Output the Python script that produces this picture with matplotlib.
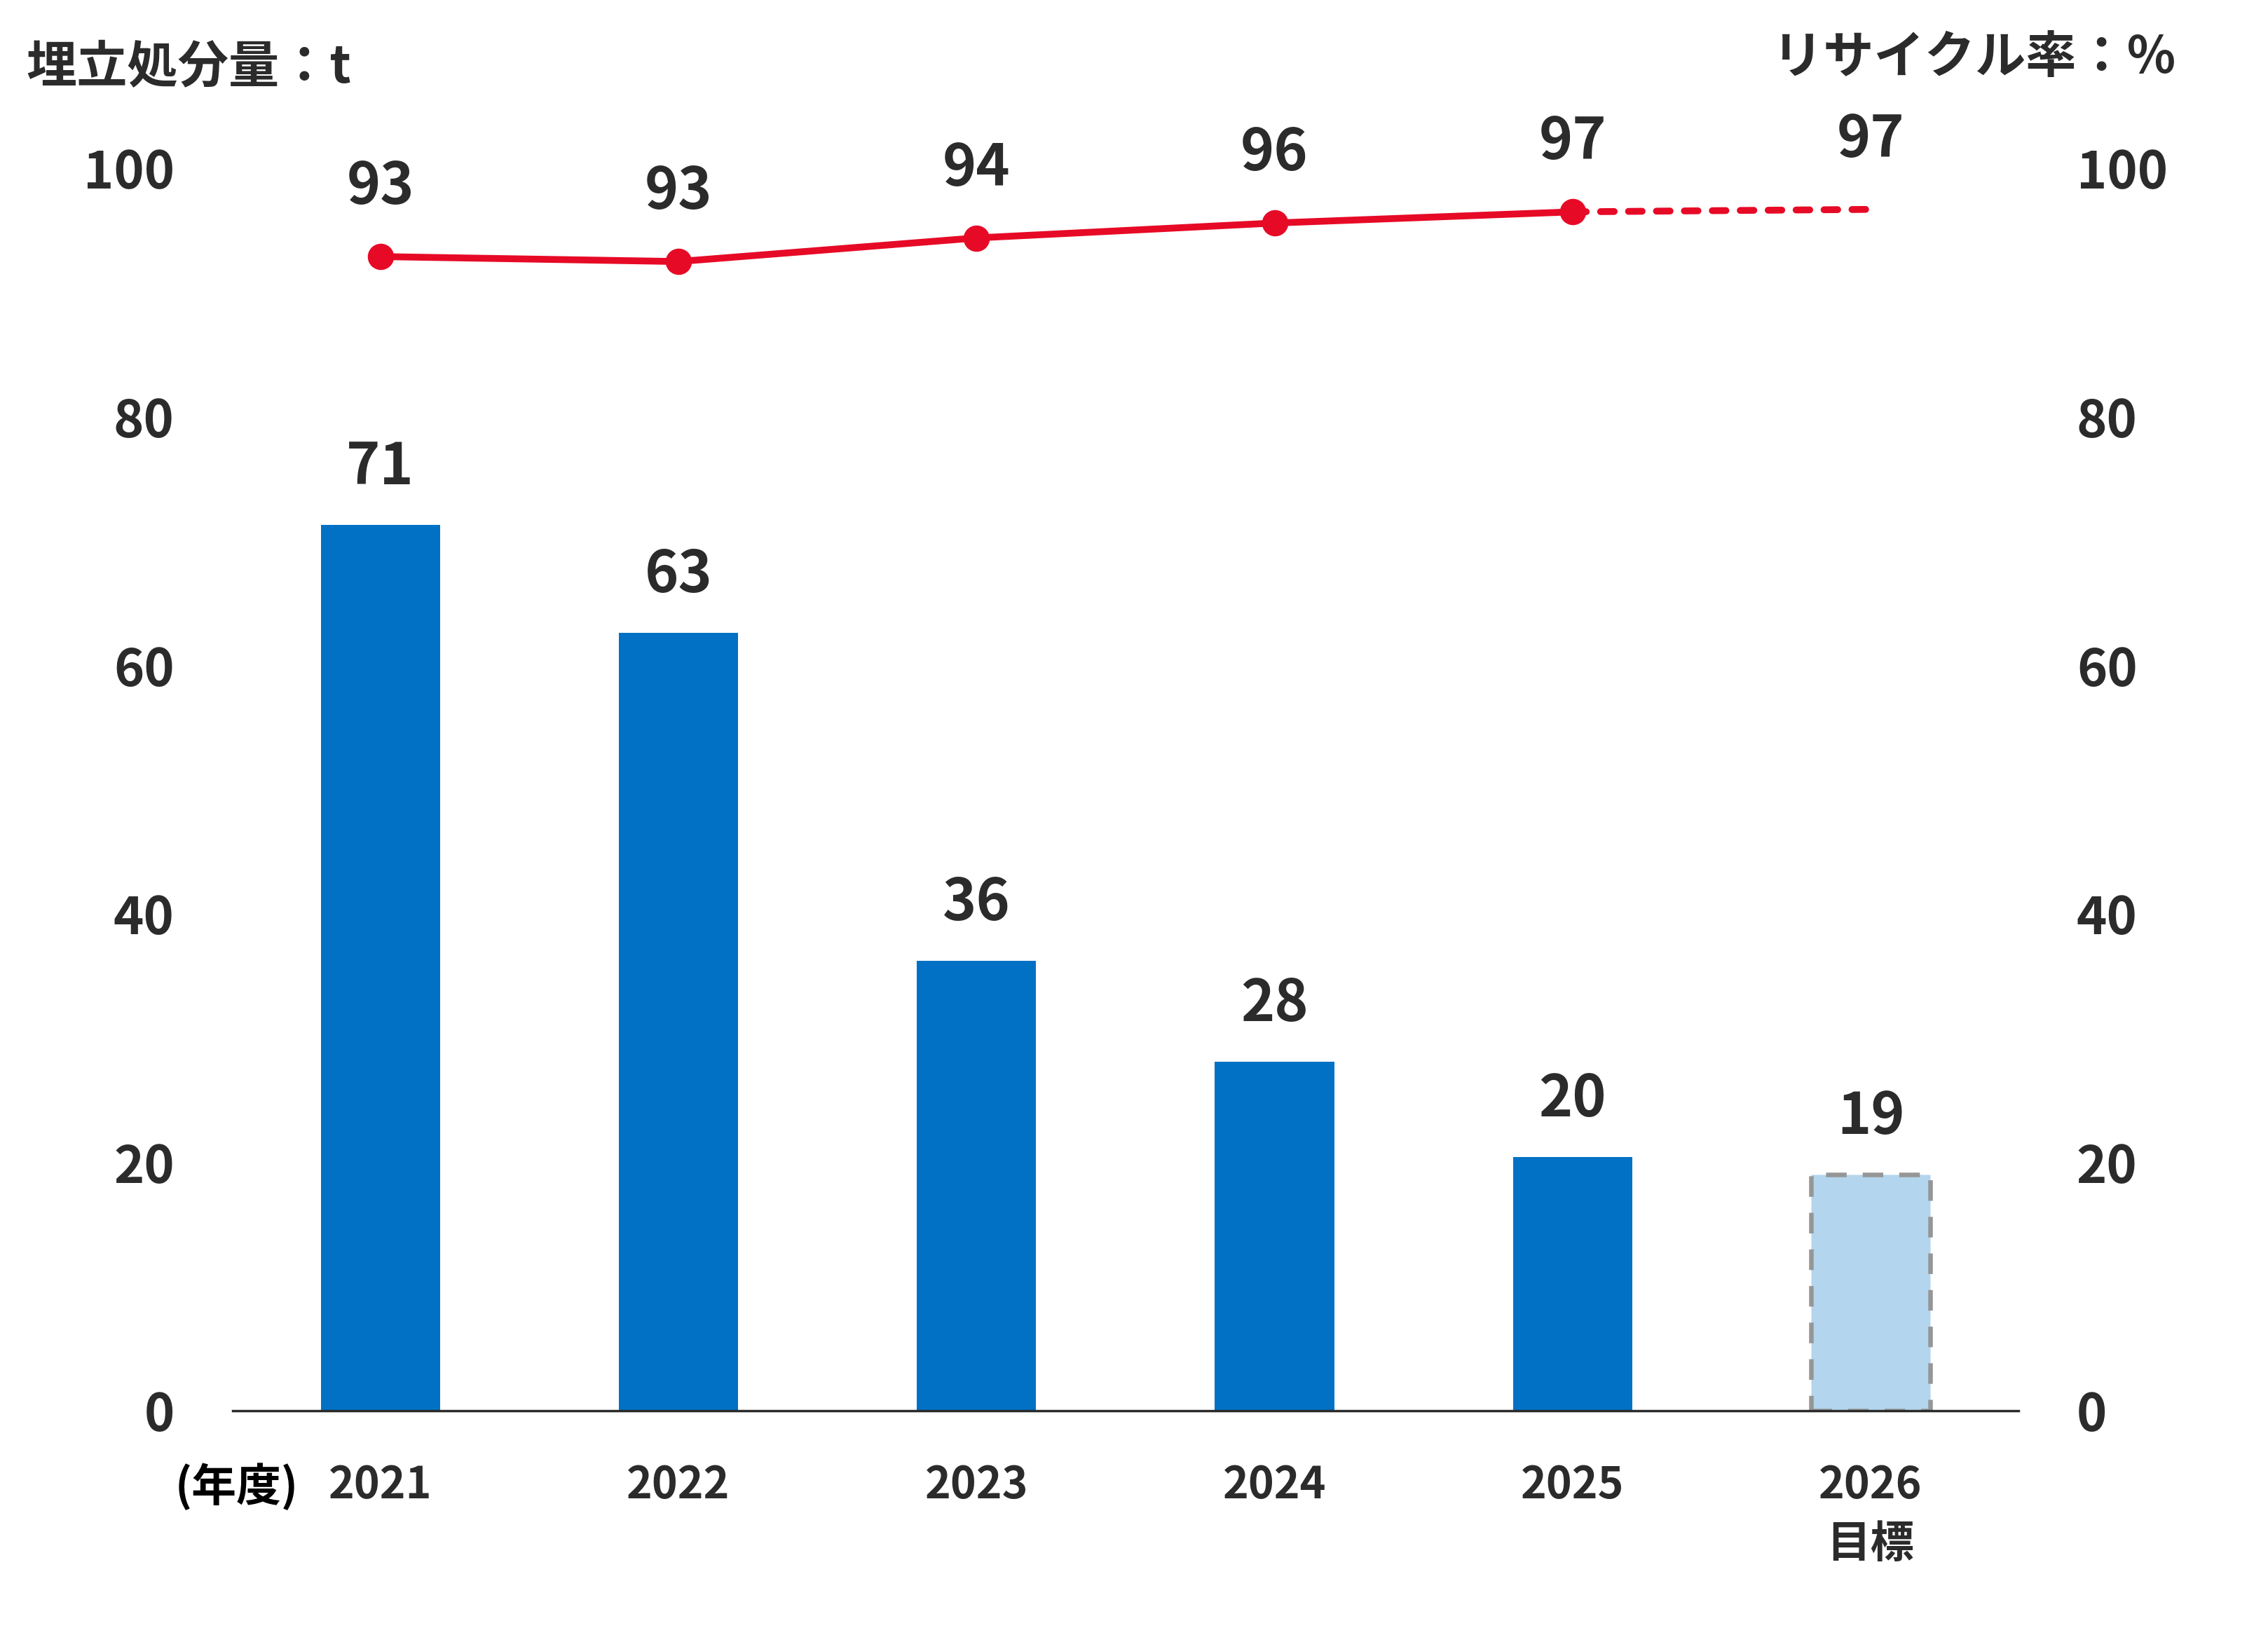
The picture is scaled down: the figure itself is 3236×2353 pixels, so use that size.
import matplotlib
matplotlib.use("Agg")
import matplotlib.pyplot as plt
from matplotlib.transforms import blended_transform_factory

plt.rcParams['font.family'] = ['Noto Sans CJK JP', 'DejaVu Sans']
plt.rcParams['font.weight'] = 'bold'

# ---- data ----
years = ["2021", "2022", "2023", "2024", "2025", "2026\n目標"]
landfill = [71.3, 62.6, 36.2, 28.1, 20.4, 19.0]          # t
landfill_labels = ["71", "63", "36", "28", "20", "19"]
recycle = [92.9, 92.5, 94.4, 95.6, 96.5, 96.7]           # %
recycle_labels = ["93", "93", "94", "96", "97", "97"]
yticks = [0, 20, 40, 60, 80, 100]

TXT = "#2b2b2b"
BLUE = "#0071c5"
LIGHT = "#b3d5ed"
RED = "#e60a26"
GRAY = "#969696"

fig = plt.figure(figsize=(32.37, 23.53), dpi=100)
ax = fig.add_axes([0.1026, 0.1445, 0.787, 0.7534])
ax2 = ax.twinx()

x = list(range(len(years)))
n_act = len(years) - 1

ax.bar(x[:n_act], landfill[:n_act], width=0.4, color=BLUE, zorder=2)
ax.bar(x[n_act], landfill[n_act], width=0.4, color=LIGHT, edgecolor=GRAY,
       linewidth=4.7, linestyle=(0, (4.5, 3.5)), zorder=2)

for xi, v, lab in zip(x, landfill, landfill_labels):
    ax.annotate(lab, (xi, v), xytext=(0, 59), textcoords='offset points',
                ha='center', va='center', fontsize=59, color=TXT, fontweight='bold')

ax2.plot(x[:n_act], recycle[:n_act], color=RED, linewidth=7, marker='o',
         markersize=26, zorder=3, clip_on=False)
ax2.plot(x[n_act - 1:], recycle[n_act - 1:], color=RED, linewidth=7,
         linestyle=(0, (2.0, 2.1)), dash_capstyle='round', zorder=3, clip_on=False)
for xi, v, lab in zip(x, recycle, recycle_labels):
    ax2.annotate(lab, (xi, v), xytext=(0, 71), textcoords='offset points',
                 ha='center', va='center', fontsize=59, color=TXT, fontweight='bold')

for a in (ax, ax2):
    a.set_ylim(0, 100)
    a.set_xlim(-0.495, 5.495)
    a.set_yticks(yticks)
    a.set_yticklabels([str(t) for t in yticks])
    for s in a.spines.values():
        s.set_visible(False)
    a.tick_params(axis='y', length=0, pad=60, labelsize=53, labelcolor=TXT)

ax.spines['bottom'].set_visible(True)
ax.spines['bottom'].set_color(TXT)
ax.spines['bottom'].set_linewidth(2.5)
ax.spines['bottom'].set_zorder(4)

ax.set_xticks(x)
ax.set_xticklabels(years, fontsize=45, color=TXT, fontweight='bold', linespacing=1.42)
ax.tick_params(axis='x', length=0, pad=54)

tr = blended_transform_factory(ax.transData, ax.transAxes)
ax.annotate("(年度)", xy=(-0.275, 0), xycoords=tr, xytext=(0, -54),
            textcoords='offset points', ha='right', va='top', fontsize=46,
            color='black', fontweight='bold')

fig.text(0.0115, 0.959, "埋立処分量：t", ha='left', va='center', fontsize=52,
         color=TXT, fontweight='bold')
fig.text(0.959, 0.9647, "リサイクル率：%", ha='right', va='center', fontsize=52,
         color=TXT, fontweight='bold')

fig.savefig("out.png", dpi=100, facecolor='white')
